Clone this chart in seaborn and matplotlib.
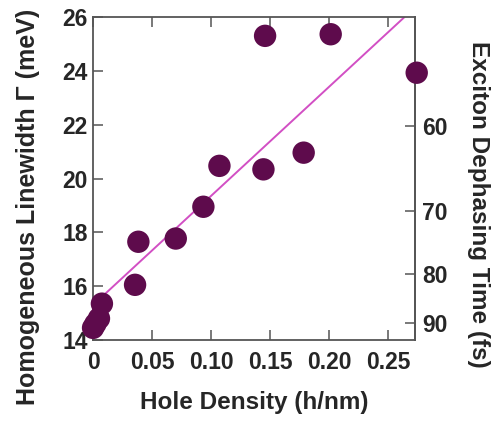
import numpy as np
import pandas as pd
import matplotlib
matplotlib.use("Agg")
import matplotlib.pyplot as plt
import seaborn as sns

# Datos
hole_density = [0.0, 0.002, 0.005, 0.0075, 0.0356, 0.0384, 0.0701, 0.0935,
                0.1071, 0.1444, 0.1458, 0.1785, 0.2014, 0.2743]
linewidth = [14.45, 14.6, 14.8, 15.35, 16.05, 17.65, 17.77, 18.95,
             20.47, 20.34, 25.3, 20.96, 25.36, 23.93]

# Recta de ajuste (extremos)
fit_x = [0.0, 0.264]
fit_y = [15.3, 26.0]

x_ticks = [0, 0.05, 0.10, 0.15, 0.20, 0.25]
x_tick_labels = ["0", "0.05", "0.10", "0.15", "0.20", "0.25"]
y_ticks = [14, 16, 18, 20, 22, 24, 26]
time_ticks = [60, 70, 80, 90]

HBAR2 = 1316.4  # 2*hbar en meV*fs

df = pd.DataFrame({"x": hole_density, "y": linewidth})
df_fit = pd.DataFrame({"x": fit_x, "y": fit_y})

sns.set_theme(style="white")
plt.rcParams["font.family"] = ["Liberation Sans", "DejaVu Sans"]
plt.rcParams["font.weight"] = "bold"

fig = plt.figure(figsize=(4.95, 4.21), dpi=100)
ax = fig.add_axes([0.188, 0.1924, 0.6505, 0.7672])

sns.lineplot(data=df_fit, x="x", y="y", ax=ax, color="#D24FC4", linewidth=1.4)
sns.scatterplot(data=df, x="x", y="y", ax=ax, color="#5E0B4C", s=260,
                edgecolor="none", clip_on=False, zorder=3)

ax.set_xlim(0, 0.2729)
ax.set_ylim(14, 26)
ax.set_xticks(x_ticks)
ax.set_xticklabels(x_tick_labels)
ax.set_yticks(y_ticks)

ax.tick_params(axis="both", direction="in", length=7, width=1.1,
               color="#555555", labelsize=16.5)
ax.tick_params(axis="x", top=True, bottom=True, pad=8)
ax.tick_params(axis="y", left=True, right=False, pad=4)

for sp in ax.spines.values():
    sp.set_color("#555555")
    sp.set_linewidth(1.3)

ax.set_xlabel("Hole Density (h/nm)", fontsize=17.5, fontweight="bold", labelpad=12)
ax.set_ylabel("Homogeneous Linewidth \u0393 (meV)", fontsize=18,
              fontweight="bold")
ax.yaxis.set_label_coords(-0.165, 0.413)

# Eje derecho: tiempo de desfase = 2*hbar / Gamma
sec = ax.secondary_yaxis("right", functions=(lambda g: HBAR2 / g, lambda t: HBAR2 / t))
sec.set_yticks(time_ticks)
sec.tick_params(direction="in", length=7, width=1.1, color="#555555",
                labelsize=16.5, pad=5)
sec.spines["right"].set_color("#555555")
sec.spines["right"].set_linewidth(1.3)
sec.set_ylabel("Exciton Dephasing Time (fs)", fontsize=17.5, fontweight="bold",
               rotation=270, va="bottom")
sec.yaxis.set_label_coords(1.161, 0.42, transform=ax.transAxes)

fig.savefig("out.png", dpi=100)
